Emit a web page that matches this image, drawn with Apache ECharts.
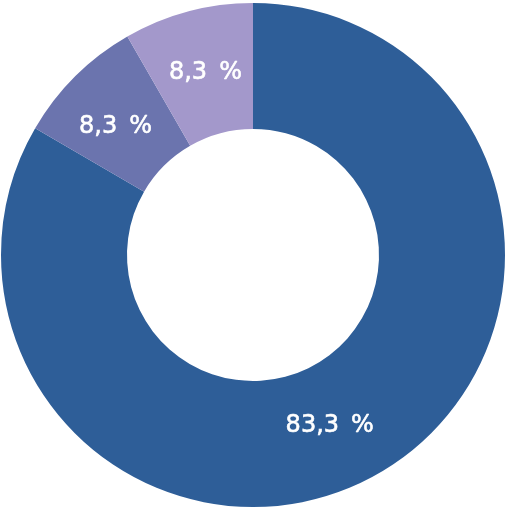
<!DOCTYPE html>
<html>
<head>
<meta charset="utf-8">
<script src="https://cdn.jsdelivr.net/npm/echarts@6/dist/echarts.min.js"></script>
<style>html,body{margin:0;padding:0;background:#fff;}#c{width:506px;height:511px;}</style>
</head>
<body>
<div id="c"></div>
<script>
const categories = ['A', 'B', 'C'];
const values = [83.3, 8.3, 8.3];
const colors = ['#2e5e98', '#6b74ae', '#a398cb'];

const labelShift = [[-19, 4], [-2, 8], [2, 3]];

const chart = echarts.init(document.getElementById('c'), null, {renderer: 'canvas'});
chart.setOption({
  animation: false,
  series: [{
    type: 'pie',
    center: [253, 255],
    radius: [126, 252],
    startAngle: 90,
    clockwise: true,
    silent: true,
    label: {
      show: true,
      position: 'inside',
      color: '#ffffff',
      fontFamily: 'DejaVu Sans',
      fontSize: 24,
      textBorderColor: '#ffffff',
      textBorderWidth: 0.6,
      formatter: p => String(p.value).replace('.', ',') + '\u2002%'
    },
    labelLayout: p => ({dx: labelShift[p.dataIndex][0], dy: labelShift[p.dataIndex][1]}),
    labelLine: {show: false},
    itemStyle: {borderWidth: 0},
    data: categories.map((n, i) => ({name: n, value: values[i], itemStyle: {color: colors[i]}}))
  }]
});
</script>
</body>
</html>
